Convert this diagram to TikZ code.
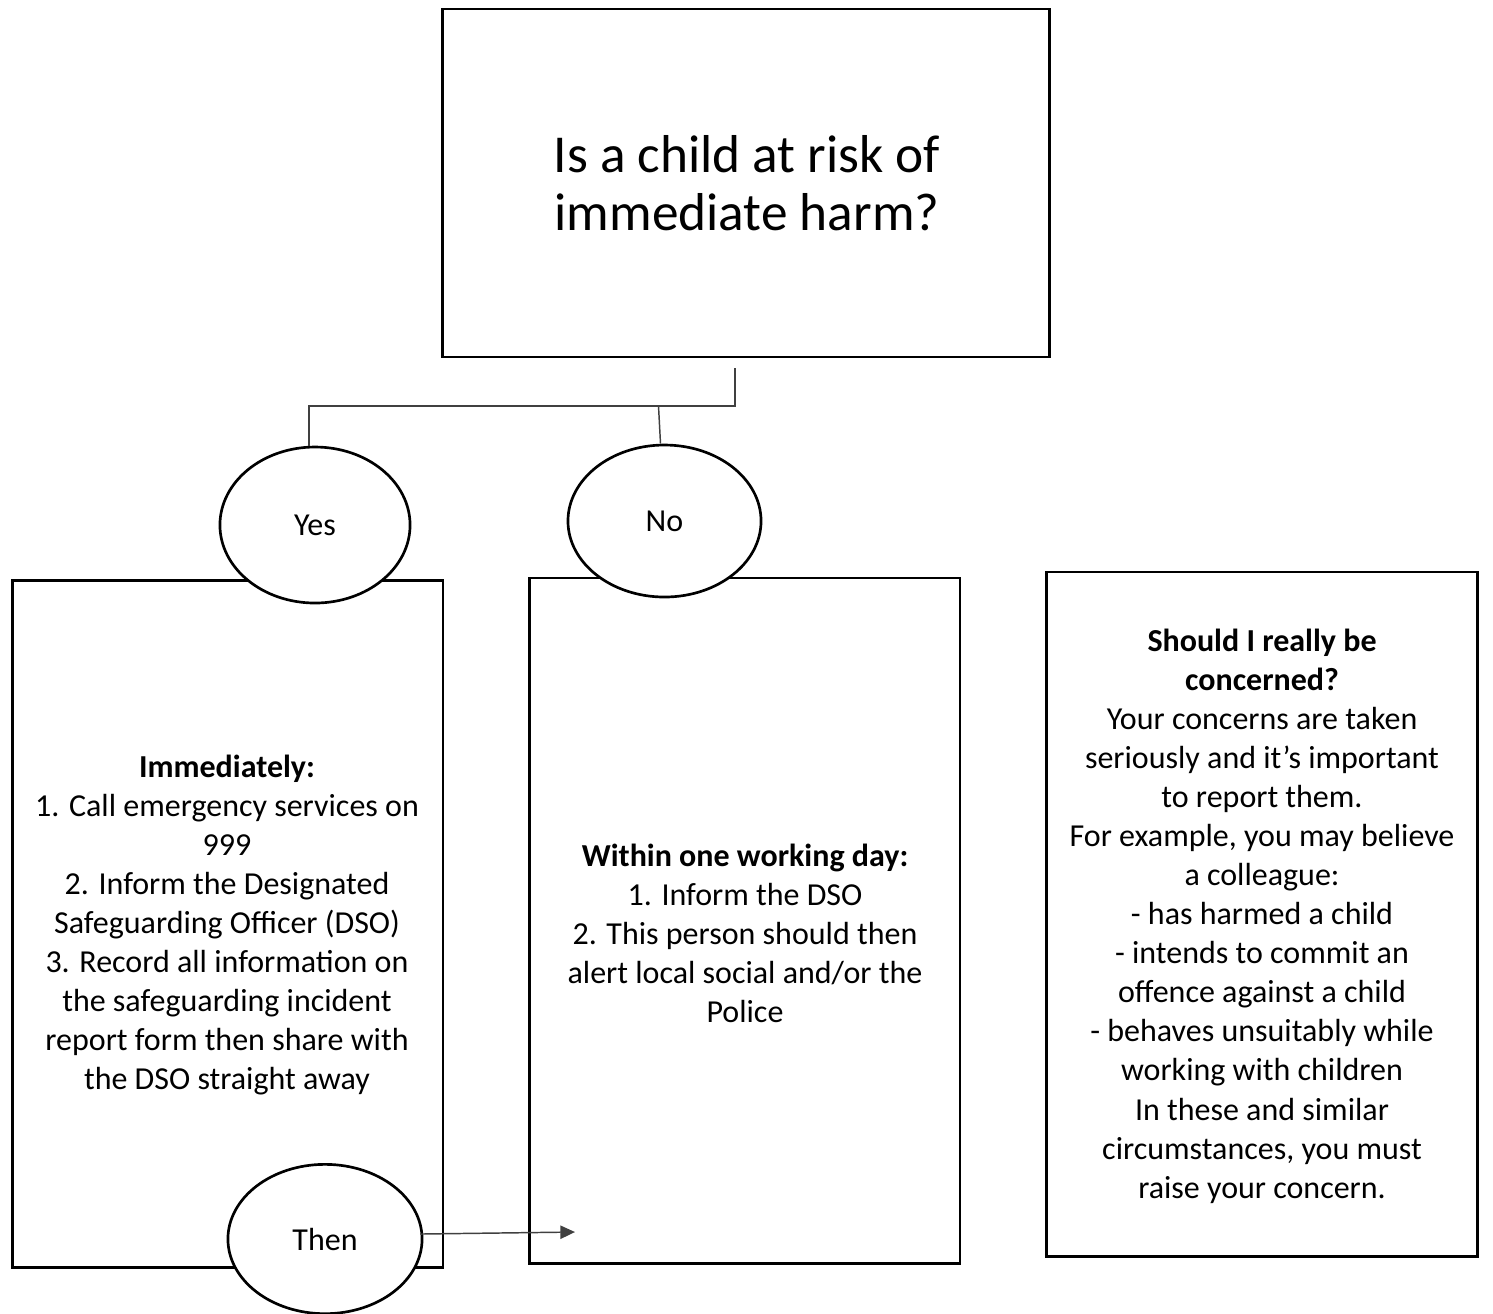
\documentclass[tikz,border=0pt]{standalone}
\usepackage{fontspec}
\setmainfont{Carlito}
\usetikzlibrary{arrows.meta, shapes.geometric}

\begin{document}
\begin{tikzpicture}[
    x = 0.375pt, y = -0.375pt,
    box/.style = {rectangle, draw, line width=1.1pt, inner sep=0pt},
    answer/.style = {ellipse, draw, line width=1pt, fill=white, inner sep=0pt, font=\fontsize{12}{14.65}\selectfont},
    txt/.style = {align=center, inner sep=0pt, font=\fontsize{12}{14.65}\selectfont},
    link/.style = {draw=black!75, line width=0.55pt},
]
    \useasboundingbox (0,0) rectangle (1493,1313);

    % question and the three boxes
    \node[box, minimum width=227.3pt, minimum height=130.5pt] (question) at (746,183) {};
    \node[box, minimum width=161.6pt, minimum height=257.3pt] (immediate) at (227.5,924) {};
    \node[box, minimum width=161.6pt, minimum height=256.9pt] (withinday) at (744.5,920.5) {};
    \node[box, minimum width=161.3pt, minimum height=256.5pt] (concern) at (1262,914) {};

    \node[txt, font=\fontsize{20}{21.5}\selectfont] (questiontxt) at (747,183)
        {Is a child at risk of\\ immediate harm?};
    \node[txt] (immediatetxt) at (227,925)
        {\textbf{Immediately:}\\
         1. Call emergency services on\\
         999\\
         2. Inform the Designated\\
         Safeguarding Officer (DSO)\\
         3. Record all information on\\
         the safeguarding incident\\
         report form then share with\\
         the DSO straight away};
    \node[txt] (withindaytxt) at (745,933)
        {\textbf{Within one working day:}\\
         1. Inform the DSO\\
         2. This person should then\\
         alert local social and/or the\\
         Police};
    \node[txt] (concerntxt) at (1262,916)
        {\textbf{Should I really be}\\
         \textbf{concerned?}\\
         Your concerns are taken\\
         seriously and it’s important\\
         to report them.\\
         For example, you may believe\\
         a colleague:\\
         - has harmed a child\\
         - intends to commit an\\
         offence against a child\\
         - behaves unsuitably while\\
         working with children\\
         In these and similar\\
         circumstances, you must\\
         raise your concern.};

    % answers
    \node[answer, minimum width=71.3pt, minimum height=58.5pt] (yes) at (315,525) {Yes};
    \node[answer, minimum width=72.4pt, minimum height=57pt] (no) at (664.5,521) {No};
    \node[answer, minimum width=72.8pt, minimum height=56pt] (then) at (325,1239) {Then};

    % connectors
    \coordinate (fork) at (735,406);
    \coordinate (notop) at ([shift={(-6,0)}]no.north);
    \coordinate (tip) at (575,1232);
    \draw[link] ([shift={(-11,10)}]question.south) -- (fork) -| ([shift={(-6,0)}]yes.north);
    \draw[link] (fork -| notop) -- ([shift={(-4,0)}]no.north);
    \draw[link, -{Triangle[length=5.5pt, width=5pt]}] ([shift={(-3,-5)}]then.east) -- (tip);
\end{tikzpicture}
\end{document}
